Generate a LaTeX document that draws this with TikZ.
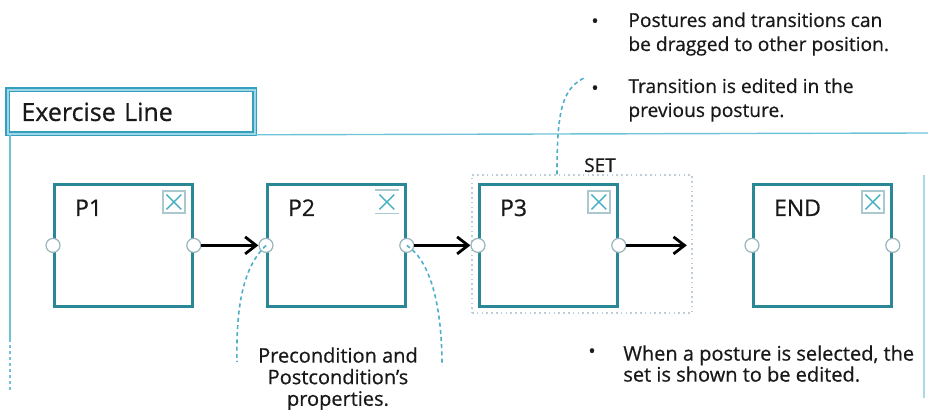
\documentclass[tikz,border=0pt]{standalone}
\usepackage{fontspec}
\setmainfont{Open Sans}[UprightFeatures={FakeBold=0.6}]
\usetikzlibrary{arrows.meta,positioning}
\definecolor{boxline}{RGB}{42,135,150}
\definecolor{titleline}{RGB}{52,160,190}
\definecolor{titlelight}{RGB}{160,215,232}
\definecolor{frameline}{RGB}{110,195,215}
\definecolor{calloutline}{RGB}{80,175,200}
\definecolor{icongray}{RGB}{170,200,205}
\definecolor{iconx}{RGB}{70,175,195}
\definecolor{setdots}{RGB}{190,205,215}
\definecolor{portline}{RGB}{150,180,185}
\definecolor{inktext}{RGB}{25,25,25}
\tikzset{posture/.style={draw=boxline,line width=1.4pt,fill=white,
                         minimum width=69pt,minimum height=61pt,anchor=north west}}
\tikzset{port/.style={circle,draw=portline,line width=0.6pt,fill=white,
                      minimum size=7pt,inner sep=0pt}}
\tikzset{xbox/.style={rectangle,draw=icongray,line width=0.8pt,minimum size=11pt,inner sep=0pt,
                      path picture={\draw[iconx,line width=0.7pt]
                        ([shift={(1.8pt,-1.8pt)}]path picture bounding box.north west) --
                        ([shift={(-1.8pt,1.8pt)}]path picture bounding box.south east)
                        ([shift={(1.8pt,1.8pt)}]path picture bounding box.south west) --
                        ([shift={(-1.8pt,-1.8pt)}]path picture bounding box.north east);}}}
\tikzset{xbar/.style={xbox,draw=none,
                      append after command={(\tikzlastnode.north west) edge[icongray,line width=0.8pt] (\tikzlastnode.north east)
                                            (\tikzlastnode.south west) edge[icongray,line width=0.4pt] (\tikzlastnode.south east)}}}
\tikzset{flow/.style={line width=1.5pt,-{Straight Barb[length=5.5pt,width=8.5pt,line width=1.4pt]}}}
\tikzset{callout/.style={calloutline,line width=0.8pt,dash pattern=on 2pt off 1.6pt}}
\tikzset{frame/.style={frameline,line width=0.7pt}}
\tikzset{note/.style={text=inktext,align=left,inner sep=0pt,font=\fontsize{9.6}{12}\selectfont}}

\begin{document}
\begin{tikzpicture}[x=0.5pt,y=-0.5pt]
    \useasboundingbox (0,0) rectangle (928,410);
    % Exercise line frame and title
    \node[draw=titleline,line width=0.9pt,double=titlelight,double distance=0.7pt,fill=white,
          minimum width=123.5pt,minimum height=22pt,text width=110pt,inner xsep=5pt,
          align=left,anchor=north west,text=inktext,font=\fontsize{12.5}{15}\selectfont]
          (title) at (7,89) {Exercise Line};
    \coordinate (frameend) at (928,133);
    \draw[frame] (title.south east) -- (frameend);
    \draw[frame] ([xshift=1.5pt]title.south west) -- ++(0,204) coordinate (leftbreak);
    \draw[frame,dash pattern=on 1.5pt off 1.5pt] (leftbreak) -- ++(0,51);
    \draw[frame,white!40!frameline] (924,175) -- (924,398);
    % Set of the selected posture
    \node[draw=setdots,line width=0.6pt,dash pattern=on 0.8pt off 1.6pt,
          minimum width=110pt,minimum height=69pt] (set) at (582,244) {};
    \node[anchor=base,text=inktext,font=\fontsize{9.5}{11}\selectfont] at (600,172) {SET};
    % Postures with their ports and icons
    \foreach \name/\x/\icon in {P1/53/xbox,P2/266/xbar,P3/478/xbox,END/752/xbox}{%
          \node[posture] (\name) at (\x,183) {};
          \node[anchor=base west,text=inktext,font=\fontsize{11.5}{13}\selectfont]
               at ([shift={(15,33)}]\name.north west) {\name};
          \node[\icon] (\name-x) at ([shift={(-20,19)}]\name.north east) {};
          \node[port] (\name-in) at (\name.west) {};
          \node[port] (\name-out) at (\name.east) {};
        }
    % Transitions
    \coordinate (next) at ([xshift=34pt]P3-out.center);
    \draw[flow] (P1-out) -- (P2-in);
    \draw[flow] (P2-out) -- (P3-in);
    \draw[flow] (P3-out) -- (next);
    % Callouts
    \coordinate (pre) at (237,362);
    \coordinate (post) at (442,366);
    \coordinate (top) at (586,77);
    \draw[callout] (P2-in.center) .. controls (242,268) and (236,310) .. (pre);
    \draw[callout] (P2-out.center) .. controls (432,262) and (442,310) .. (post);
    \draw[callout] ([xshift=-12.5pt]set.north) .. controls (557,110) and (562,88) .. (top);
    % Notes
    \node[note] (b1) at (595,23) {\textbullet};
    \node[note,anchor=north west] (n1) at (628,12) {Postures and transitions can\\be dragged to other position.};
    \node[note] (b2) at (595,90) {\textbullet};
    \node[note,anchor=north west] (n2) at (628,78) {Transition is edited in the\\previous posture.};
    \node[note] (b3) at (592,353) {\textbullet};
    \node[note,anchor=north west,font=\fontsize{10}{10.5}\selectfont] (n3) at (623,345)
         {When a posture is selected, the\\set is shown to be edited.};
    \node[note,anchor=north,align=center,font=\fontsize{10}{10.8}\selectfont] (n4) at (338,347)
         {Precondition and\\Postcondition’s\\properties.};
\end{tikzpicture}
\end{document}
